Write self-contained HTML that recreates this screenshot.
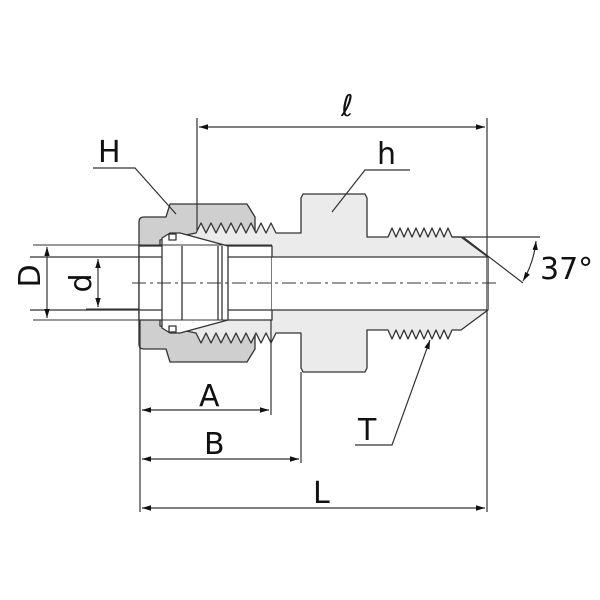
<!DOCTYPE html>
<html><head><style>body{margin:0;background:#fff}svg{display:block}text{font-family:"DejaVu Sans","Liberation Sans",sans-serif;fill:#111}</style></head><body>
<svg width="600" height="600" viewBox="0 0 600 600" xmlns="http://www.w3.org/2000/svg">
<defs><marker id="a" viewBox="0 0 10 10" refX="10" refY="5" markerWidth="9" markerHeight="9" orient="auto-start-reverse" markerUnits="userSpaceOnUse"><path d="M0,2 L10,5 L0,8 Z" fill="#111"/></marker></defs>
<g stroke="#333" stroke-width="1.3" stroke-linejoin="round">
<!-- nut -->
<path fill="#cfcfcf" d="M139,222 Q139,217 144,217 L166,217 L170,204 L247,204 L255,217 L255,349 L247,362 L170,362 L166,349 L144,349 Q139,349 139,344 Z"/>
<!-- body light -->
<path fill="#ebebeb" d="M160,240 L196,233 L201,223 L206,233 L211,223 L216,233 L221,223 L226,233 L231,223 L236,233 L241,223 L246,233 L251,223 L256,233 L261,223 L266,233 L271,223 L276,233 L301,233 L301,198 L303,194 L365,194 L367,198 L367,237 L388,237 L392,228 L396,237 L400,228 L404,237 L408,228 L412,237 L416,228 L420,237 L424,228 L428,237 L432,228 L436,237 L440,228 L444,237 L448,228 L452,237 L461,237 L488,257 L488,310 L461,330 L452,330 L448,339 L444,330 L440,339 L436,330 L432,339 L428,330 L424,339 L420,330 L416,339 L412,330 L408,339 L404,330 L400,339 L396,330 L392,339 L388,330 L367,330 L367,368 L365,372 L303,372 L301,368 L301,333 L276,333 L271,343 L266,333 L261,343 L256,333 L251,343 L246,333 L241,343 L236,333 L231,343 L226,333 L221,343 L216,333 L211,343 L206,333 L201,343 L196,333 L160,326 Z"/>
<!-- tube -->
<rect x="139" y="246" width="133" height="74" fill="#fff"/>
<rect x="272" y="257" width="216" height="53" fill="#fff" stroke="none"/>
<line x1="30" y1="257" x2="488" y2="257"/><line x1="30" y1="310" x2="488" y2="310"/>
<!-- ferrule -->
<path fill="#fff" d="M162,238 L170,233 L180,233 L228,246 L228,320 L180,333 L170,333 L162,328 Z"/>
<rect x="169" y="234" width="7" height="6" fill="#fff"/><rect x="169" y="326" width="7" height="6" fill="#fff"/>
<line x1="182" y1="246" x2="182" y2="320"/><line x1="218" y1="246" x2="218" y2="320"/><line x1="222" y1="246" x2="222" y2="320"/>
<line x1="33" y1="245" x2="272" y2="245" stroke-width="1.1"/><line x1="33" y1="320" x2="272" y2="320" stroke-width="1.1"/>
<line x1="86" y1="257" x2="139" y2="257" stroke-width="1.1"/><line x1="86" y1="309" x2="139" y2="309" stroke-width="1.1"/>
<line x1="132" y1="283" x2="496" y2="283" stroke-dasharray="14,4,3,4" stroke-width="1"/>
</g>
<g stroke="#333" stroke-width="1.2" fill="none">
<line x1="197" y1="118" x2="197" y2="230"/>
<line x1="487" y1="118" x2="487" y2="512"/>
<line x1="140" y1="320" x2="140" y2="512"/>
<line x1="271" y1="320" x2="271" y2="415"/>
<line x1="301" y1="372" x2="301" y2="463"/>
<line x1="199" y1="127" x2="485" y2="127" marker-start="url(#a)" marker-end="url(#a)"/>
<line x1="142" y1="410" x2="269" y2="410" marker-start="url(#a)" marker-end="url(#a)"/>
<line x1="142" y1="459" x2="299" y2="459" marker-start="url(#a)" marker-end="url(#a)"/>
<line x1="142" y1="508" x2="485" y2="508" marker-start="url(#a)" marker-end="url(#a)"/>
<line x1="47" y1="247" x2="47" y2="318" marker-start="url(#a)" marker-end="url(#a)"/>
<line x1="98" y1="259" x2="98" y2="307" marker-start="url(#a)" marker-end="url(#a)"/>
<polyline points="93,168 135,168 176,214"/>
<polyline points="410,170 365,170 332,212"/>
<polyline points="355,445 392,445 430,340" marker-end="url(#a)"/>
<line x1="452" y1="237" x2="540" y2="237"/>
<line x1="463" y1="237" x2="523" y2="283"/>
<path d="M536,241 Q534,262 523,281" marker-start="url(#a)" marker-end="url(#a)"/>
</g>
<g font-size="30">
<text x="341" y="116" font-style="italic" font-family="Liberation Serif,serif">ℓ</text>
<text x="98" y="162">H</text>
<text x="377" y="164">h</text>
<text x="540" y="279">37°</text>
<text x="199" y="406">A</text>
<text x="204" y="454">B</text>
<text x="313" y="503">L</text>
<text x="358" y="440">T</text>
<text transform="translate(40,276) rotate(-90)" text-anchor="middle">D</text>
<text transform="translate(91,283) rotate(-90)" text-anchor="middle">d</text>
</g>
</svg>
</body></html>
